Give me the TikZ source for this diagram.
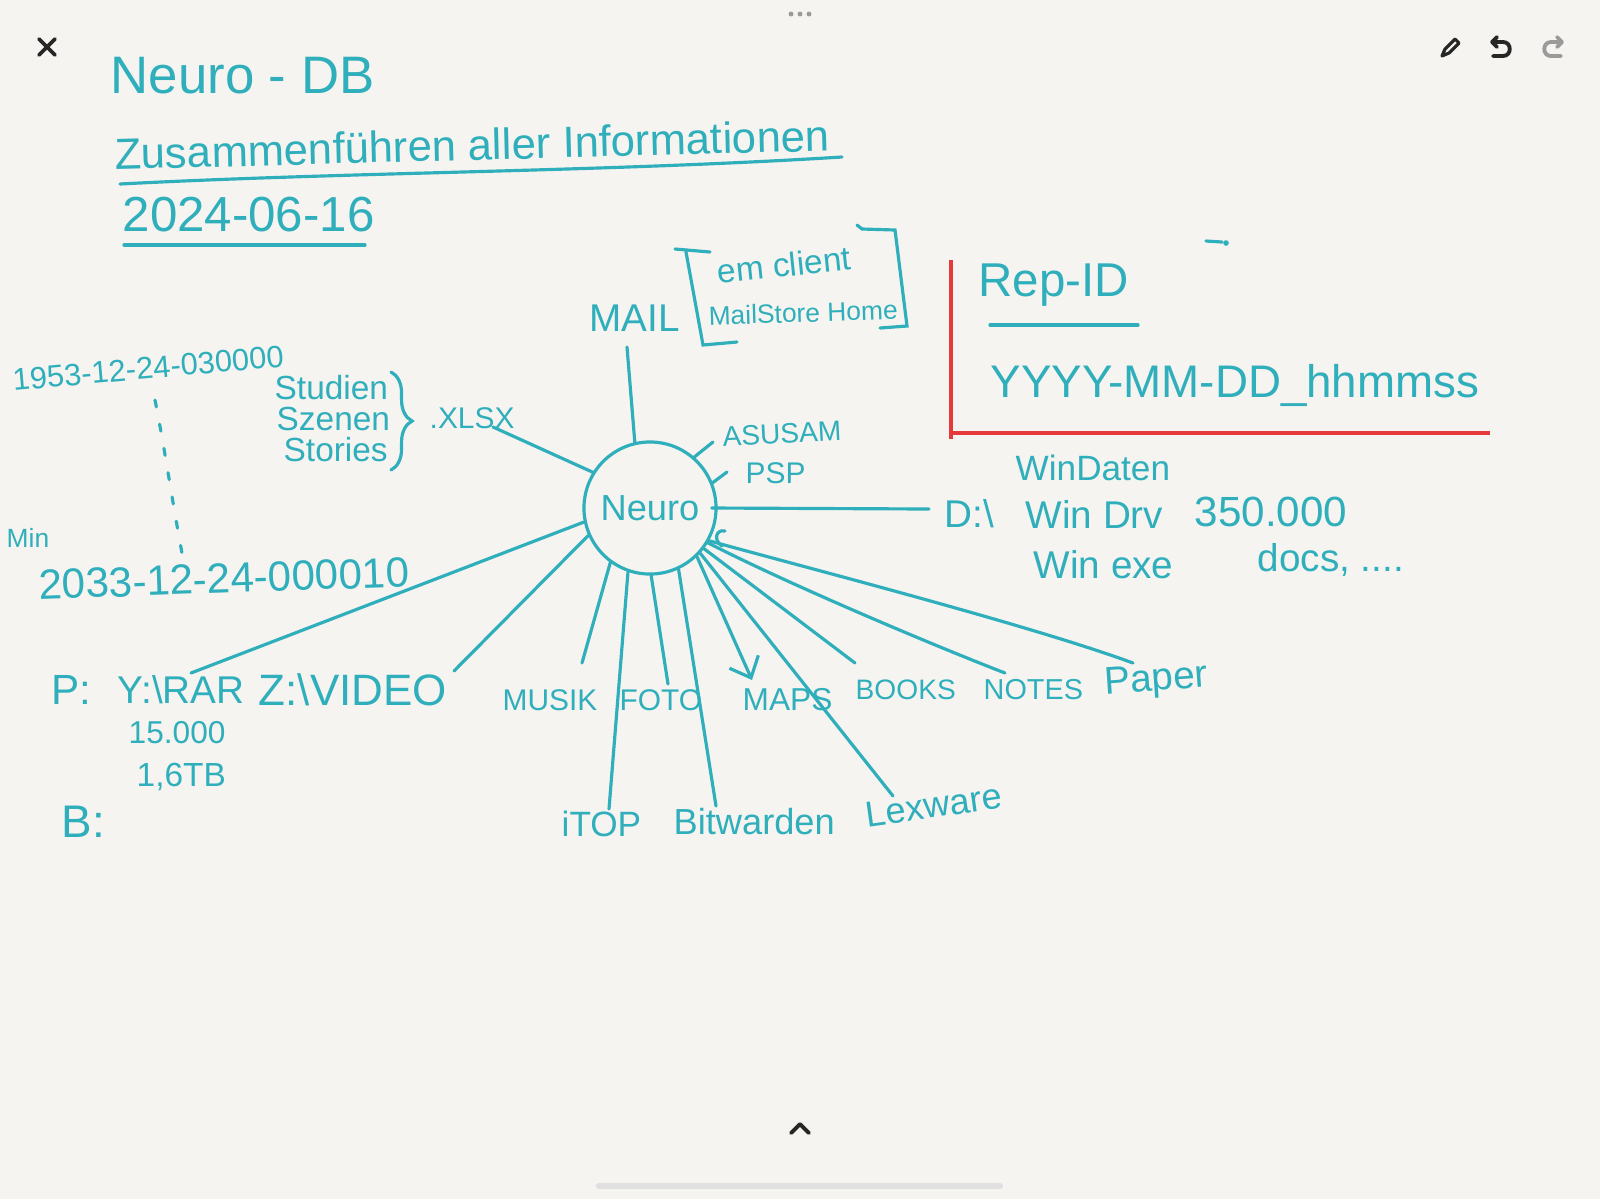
\documentclass[tikz,border=0pt]{standalone}
\usepackage{fontspec}
\setmainfont{Liberation Sans}
\usetikzlibrary{arrows.meta,decorations.pathreplacing}
\definecolor{ink}{HTML}{2FAEBB}
\definecolor{redink}{HTML}{E5393C}
\definecolor{paper}{HTML}{F5F4F0}
\definecolor{uigray}{HTML}{9A9A9A}
\newcommand{\hw}[1]{\fontsize{#1}{#1}\selectfont}
\tikzstyle{edge}=[draw=ink, line width=0.9pt, line cap=round,
                  >={Straight Barb[length=5pt,width=9pt]}]
\tikzstyle{txt}=[text=ink, inner sep=0pt, anchor=west]
\tikzstyle{hub}=[circle, draw=ink, line width=0.9pt, text=ink,
                 minimum size=1.32cm, inner sep=0pt]
\tikzstyle{redline}=[draw=redink, line width=1pt]
\tikzstyle{ui}=[draw=black!85, line width=1.1pt, line cap=round, line join=round]

\begin{document}
\begin{tikzpicture}[x=0.01cm, y=-0.01cm]
   \fill[paper] (0,0) rectangle (1600,1199);
   \useasboundingbox (0,0) rectangle (1600,1199);

   % app chrome
   \draw[ui] (39,39) -- (55,55) (55,39) -- (39,55);
   \foreach \x in {791,800,809}
     \fill[uigray] (\x,14) circle (0.7pt);
   \draw[ui, line width=0.9pt] (1442,56) -- (1445,49) -- (1455,39) -- (1459,43) -- (1449,53) -- cycle;
   \draw[ui] (1493,56) -- (1503,56) .. controls (1512,56) and (1512,42) .. (1503,42) -- (1492,42)
             (1497,37) -- (1492,42) -- (1497,47);
   \draw[ui, draw=uigray] (1561,56) -- (1551,56) .. controls (1542,56) and (1542,42) .. (1551,42) -- (1562,42)
             (1557,37) -- (1562,42) -- (1557,47);
   \draw[ui] (791,1133) -- (800,1124) -- (809,1133);
   \draw[line width=1.8pt, line cap=round, draw=black!12] (599,1186) -- (1000,1186);

   % heading
   \node (title) at (110,76) [txt]{\hw{15pt}Neuro - DB};
   \node (subtitle) at (114,154) [txt, rotate=1.5]{\hw{12.4pt}Zusammenführen aller Informationen};
   \draw[edge] (120,184) .. controls (350,172) and (600,172) .. (842,157);
   \node (date) at (122,215) [txt]{\hw{14pt}2024-06-16};
   \draw[edge] (124,245) -- (365,245);

   % hub
   \node (neuro) at (650,508) [hub]{\hw{10.3pt}Neuro};

   % mail
   \node (mail) at (589,318) [txt]{\hw{11pt}MAIL};
   \node (emclient) at (717,272) [txt, rotate=6]{\hw{9.5pt}em client};
   \node (mailstore) at (708,316) [txt, rotate=2]{\hw{7.5pt}MailStore Home};
   \draw[edge] (675,249) -- (710,252) (686,252) -- (703,345) -- (737,342);
   \draw[edge] (857,225) -- (862,229) -- (895,230) -- (907,326) -- (880,328);

   % dates + xlsx
   \node (datemax) at (12,380) [txt, rotate=5]{\hw{8.8pt}1953-12-24-030000};
   \node (studien) at (274,388) [txt]{\hw{9.5pt}Studien};
   \node (szenen) at (276,419) [txt]{\hw{9.5pt}Szenen};
   \node (stories) at (283,450) [txt]{\hw{9.5pt}Stories};
   \draw[edge, decorate, decoration={brace, amplitude=6pt}] (391,372) -- (391,470);
   \node (xlsx) at (429,418) [txt]{\hw{8.5pt}.XLSX};
   \draw[edge, dash pattern=on 2pt off 5pt] (155,400) .. controls (165,450) and (172,500) .. (182,553);
   \node (min) at (6,538) [txt]{\hw{7.5pt}Min};
   \node (datemin) at (38,585) [txt, rotate=2]{\hw{12pt}2033-12-24-000010};

   % right side
   \node (asusam) at (722,437) [txt, rotate=3]{\hw{8pt}ASUSAM};
   \node (psp) at (745,473) [txt]{\hw{8.5pt}PSP};
   \node (windaten) at (1015,468) [txt]{\hw{10pt}WinDaten};
   \node (drive) at (944,514) [txt]{\hw{11pt}D:\textbackslash};
   \node (windrv) at (1025,514) [txt]{\hw{11pt}Win Drv};
   \node (count) at (1194,512) [txt]{\hw{12pt}350.000};
   \node (winexe) at (1033,565) [txt]{\hw{11pt}Win exe};
   \node (docs) at (1257,560) [txt]{\hw{11pt}docs, ....};

   % rep-id box
   \node (repid) at (978,285) [txt]{\hw{13.5pt}Rep-ID};
   \draw[edge] (990,325) -- (1138,325);
   \node (fmt) at (990,385) [txt]{\hw{13pt}YYYY-MM-DD\_hhmmss};
   \draw[redline] (951,260) -- (951,439);
   \draw[redline] (951,433) -- (1490,433);
   \draw[edge] (1206,241) -- (1222,242);
   \fill[ink] (1226,243) circle (0.8pt);

   % bottom labels
   \node (p) at (51,690) [txt]{\hw{12pt}P:};
   \node (rar) at (117,690) [txt]{\hw{11pt}Y:\textbackslash RAR};
   \node (video) at (258,690) [txt]{\hw{12.5pt}Z:\textbackslash VIDEO};
   \node (files) at (128,733) [txt]{\hw{9pt}15.000};
   \node (size) at (136,777) [txt]{\hw{9.5pt}1,6TB};
   \node (b) at (61,822) [txt]{\hw{13pt}B:};
   \node (musik) at (502,700) [txt]{\hw{8.5pt}MUSIK};
   \node (foto) at (619,700) [txt]{\hw{8.5pt}FOTO};
   \node (maps) at (742,700) [txt]{\hw{9pt}MAPS};
   \node (books) at (855,690) [txt]{\hw{8pt}BOOKS};
   \node (notes) at (983,690) [txt]{\hw{8.2pt}NOTES};
   \node (paper) at (1104,685) [txt, rotate=4]{\hw{11pt}Paper};
   \node (itop) at (561,824) [txt]{\hw{10pt}iTOP};
   \node (bitwarden) at (673,822) [txt]{\hw{10.3pt}Bitwarden};
   \node (lexware) at (865,815) [txt, rotate=8]{\hw{10.3pt}Lexware};

   % spoke ends
   \coordinate (mailend) at (627,347);
   \coordinate (xlsxend) at (493,427);
   \coordinate (asusend) at (713,442);
   \coordinate (pspend) at (727,472);
   \coordinate (dend) at (929,509);
   \coordinate (pend) at (191,673);
   \coordinate (videoend) at (454,671);
   \coordinate (musikend) at (582,663);
   \coordinate (itopend) at (609,809);
   \coordinate (fotoend) at (668,684);
   \coordinate (bitend) at (716,806);
   \coordinate (lexend) at (893,796);
   \coordinate (booksend) at (855,663);
   \coordinate (mapsend) at (752,680);
   \coordinate (notesend) at (1005,673);
   \coordinate (paperend) at (1133,663);

   \foreach \a/\v in {103/mailend,148/xlsxend,49/asusend,22/pspend,192/pend,
                      204/videoend,234/musikend,251/itopend,271/fotoend,
                      295/bitend,318/lexend,323/booksend}
     \draw [edge] (neuro.\a) to (\v);
   \draw [edge] ([xshift=-0.06cm]neuro.east) to (dend);
   \draw [edge, ->] (neuro.314) to (mapsend);
   \draw [edge] (neuro.329) .. controls (780,580) and (920,640) .. (notesend);
   \draw [edge] (neuro.331) .. controls (800,566) and (1030,625) .. (paperend);
   \draw [edge] (722,546) .. controls (713,540) and (716,529) .. (725,531);
\end{tikzpicture}
\end{document}
